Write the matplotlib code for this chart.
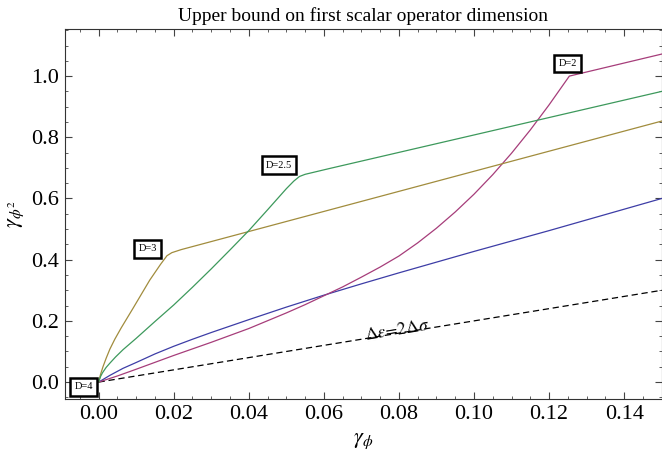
import matplotlib
matplotlib.use('Agg')
import matplotlib.pyplot as plt
from matplotlib.ticker import MultipleLocator

plt.rcParams['font.family'] = ['Liberation Serif', 'DejaVu Serif']
plt.rcParams['mathtext.fontset'] = 'stix'

# D=4 (blue)
d4_x = [0, 0.003, 0.0065, 0.01, 0.015, 0.02, 0.025, 0.03, 0.04, 0.05, 0.06, 0.07,
        0.08, 0.09, 0.10, 0.12, 0.15]
d4_y = [0, 0.022, 0.045, 0.064, 0.092, 0.117, 0.14, 0.162, 0.204, 0.245, 0.284, 0.321,
        0.357, 0.392, 0.427, 0.495, 0.60]

# D=2 (purple)
d2_x = [0, 0.005, 0.01, 0.02, 0.03, 0.04, 0.05, 0.055, 0.06, 0.065, 0.07, 0.075, 0.08,
        0.085, 0.09, 0.095, 0.10, 0.105, 0.11, 0.115, 0.12, 0.1254, 0.15]
d2_y = [0, 0.02, 0.042, 0.087, 0.13, 0.175, 0.226, 0.253, 0.282, 0.311, 0.343, 0.376, 0.412,
        0.455, 0.503, 0.556, 0.614, 0.678, 0.748, 0.824, 0.906, 1.0, 1.072]

# D=3 (gold)
d3_x = [0, 0.0005, 0.00115, 0.002, 0.003, 0.0043, 0.006, 0.0091, 0.0136, 0.0165,
        0.0182, 0.0195, 0.022, 0.15]
d3_y = [0, 0.025, 0.05, 0.078, 0.108, 0.14, 0.177, 0.24, 0.333, 0.385,
        0.413, 0.423, 0.433, 0.853]

# D=2.5 (green)
d25_x = [0, 0.0005, 0.001, 0.002, 0.003, 0.0045, 0.0065, 0.01, 0.015, 0.02, 0.025, 0.03,
         0.035, 0.04, 0.045, 0.05, 0.052, 0.0535, 0.055, 0.0615, 0.15]
d25_y = [0, 0.018, 0.03, 0.048, 0.062, 0.082, 0.106, 0.143, 0.198, 0.252, 0.31, 0.37,
         0.432, 0.495, 0.563, 0.632, 0.657, 0.672, 0.679, 0.698, 0.95]

# reference line  Δε = 2Δσ
ref_x = [0, 0.15]
ref_y = [0, 0.30]

labels = ['D=4', 'D=3', 'D=2.5', 'D=2']
label_x = [-0.004, 0.0131, 0.0481, 0.125]
label_y = [-0.016, 0.435, 0.709, 1.041]

fig = plt.figure(figsize=(6.62, 4.53), dpi=100)
ax = fig.add_axes([0.098, 0.119, 0.9015, 0.817])

ax.plot(ref_x, ref_y, color='black', lw=0.9, dashes=(5, 3))
ax.plot(d4_x, d4_y, color=(0.24, 0.24, 0.65), lw=0.9)
ax.plot(d2_x, d2_y, color=(0.65, 0.24, 0.48), lw=0.9)
ax.plot(d3_x, d3_y, color=(0.63, 0.55, 0.24), lw=0.9)
ax.plot(d25_x, d25_y, color=(0.24, 0.6, 0.36), lw=0.9)

for t, x, y in zip(labels, label_x, label_y):
    ax.text(x, y, t, fontsize=7.5, ha='center', va='center', zorder=5,
            bbox=dict(boxstyle='square,pad=0.4', fc='white', ec='black', lw=1.8))

ax.text(0.0796, 0.167, r'$\Delta\epsilon\!=\!2\Delta\sigma$', fontsize=12.5,
        rotation=9.3, ha='center', va='center', rotation_mode='anchor')

ax.set_xlim(-0.009, 0.15)
ax.set_ylim(-0.0556, 1.154)
ax.xaxis.set_major_locator(MultipleLocator(0.02))
ax.xaxis.set_minor_locator(MultipleLocator(0.005))
ax.yaxis.set_major_locator(MultipleLocator(0.2))
ax.yaxis.set_minor_locator(MultipleLocator(0.05))
ax.xaxis.set_major_formatter(lambda v, p: f'{v:.2f}')
ax.yaxis.set_major_formatter(lambda v, p: f'{v:.1f}')
ax.tick_params(which='both', direction='in', top=True, right=True, color='#444444')
ax.tick_params(which='major', length=5, width=0.8, labelsize=16, pad=4)
ax.tick_params(which='minor', length=2.5, width=0.6)
for s in ax.spines.values():
    s.set_linewidth(0.8)
    s.set_color('#333333')

ax.set_xlabel(r'$\gamma_{\phi}$', fontsize=16, labelpad=6)
ax.set_ylabel(r'$\gamma_{\phi^2}$', fontsize=16, labelpad=4)
ax.set_title('Upper bound on first scalar operator dimension', fontsize=14, pad=6)

fig.savefig('out.png', dpi=100)
